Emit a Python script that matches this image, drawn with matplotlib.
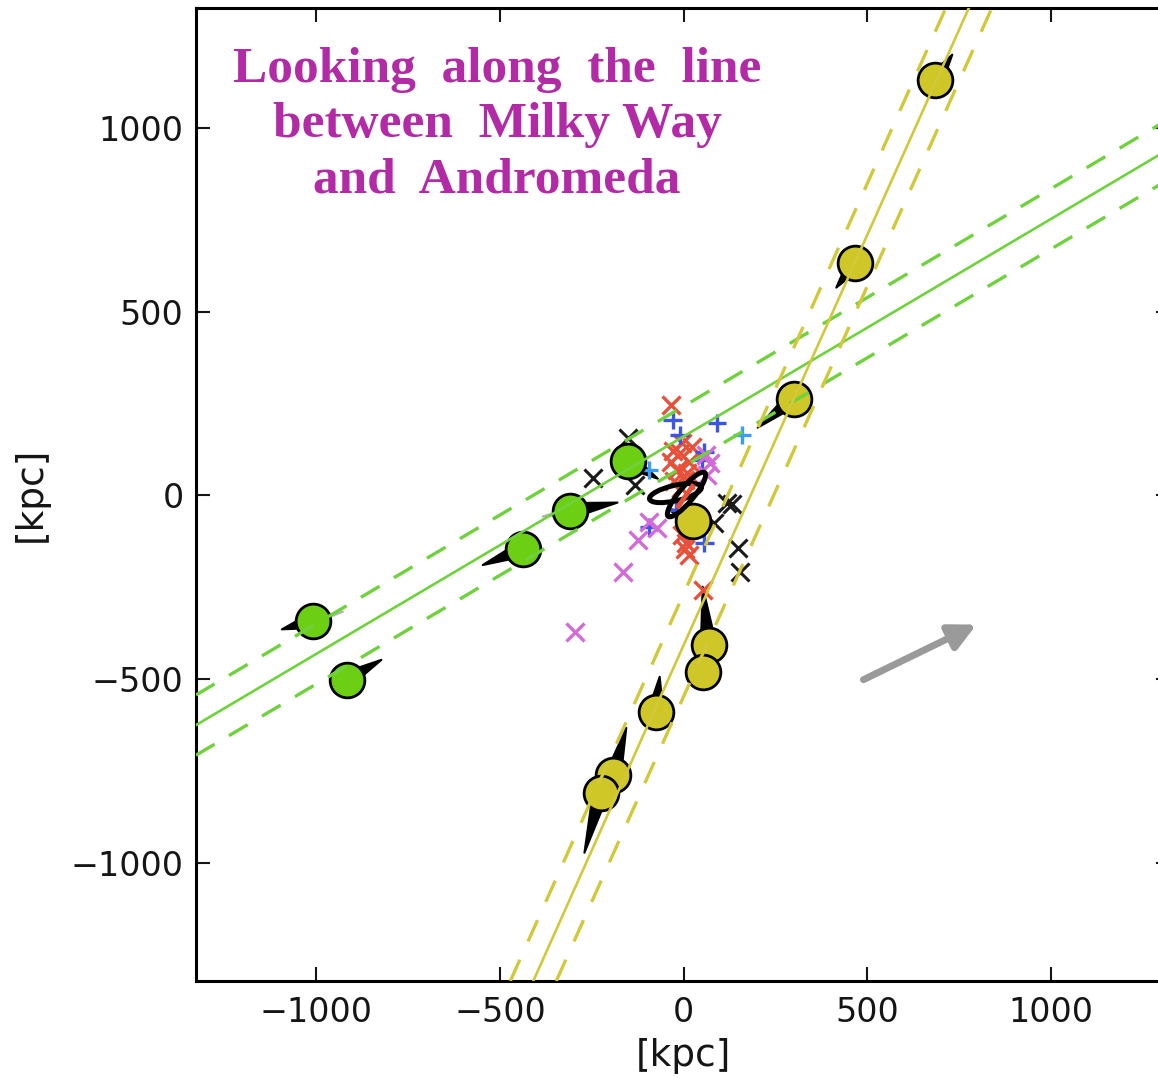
import numpy as np
import matplotlib
matplotlib.use("Agg")
import matplotlib.pyplot as plt
from matplotlib.patches import Polygon, Ellipse

# ---- satellite galaxies belonging to the two planes (kpc) ----
green_x = [-152, -308, -438, -1010, -918]
green_y = [94, -42, -146, -341, -502]
green_vx = [82, 128, -109, -84, 95]
green_vy = [-49, 22, -44, -24, 54]

yellow_x = [686, 468, 300, 27, 68, 54, -76, -191, -226]
yellow_y = [1131, 633, 263, -70, -407, -480, -589, -761, -810]
yellow_vx = [46, -52, -98, -68, -16, -5, 11, 35, -44]
yellow_vy = [68, -68, -79, 33, 158, 60, 95, 128, -163]

# faint counter-directed velocity stubs
stub_x = [-308, -1010]
stub_y = [-42, -341]
stub_vx = [-76, 82]
stub_vy = [-16, 24]

# ---- other dwarfs ----
red_x = [-33, -3, -11, -33, -19, 16, 3, 8, 16, -3, 52, -25, 10, -8, 22, -28, 5]
red_y = [246, 143, 116, 91, 69, 91, 42, -130, -162, -107, -257, 40, 60, 20, 130, 120, -145]
blue_x = [-30, 90, 158, -11, 57, -93, -93, 57, 50, -20]
blue_y = [205, 197, 165, 165, 118, 69, -86, -129, 95, -40]
blue_c = ["#3b55e6", "#3b55e6", "#3a9cf5", "#3b55e6", "#3b55e6", "#3a9cf5",
          "#3b55e6", "#3b55e6", "#3b55e6", "#3b55e6"]
mag_x = [71, 63, -93, -71, -125, -166, -297, 60]
mag_y = [88, 56, -72, -88, -121, -208, -371, 110]
blk_x = [-152, -248, -133, 117, 84, 147, 153, 132]
blk_y = [156, 48, 29, -20, -75, -143, -208, -25]

# ---- best-fit plane lines ----
green_slope, green_icpt, green_off = 0.5915, 160, 82      # y = m x + b, vertical offset
yellow_slope, yellow_x0, yellow_off = 2.232, 183, 62.6    # through (x0, 0), horizontal offset

# ---- host galaxy discs ----
disc_cx = [-22, 8]
disc_cy = [6, 2]
disc_w = [145, 155]
disc_h = [42, 40]
disc_ang = [13, 50]

# direction-of-view arrow
view_start = (490, -502)
view_end = (798, -352)

GREEN = "#6ccf14"
GREEN_LINE = "#6fd23c"
YELLOW = "#cfc728"
YELLOW_LINE = "#d2c83a"
PURPLE = "#b22aa6"
TXT = "#151515"

fig = plt.figure(figsize=(11.58, 10.78), dpi=100)
ax = fig.add_axes([0.16926, 0.08998, 0.8411, 0.9026])
ax.set_xlim(-1328, 1325)
ax.set_ylim(-1322, 1326)


def wedge(x, y, vx, vy, color, half=21, z=2):
    L = np.hypot(vx, vy)
    if L == 0:
        return
    px, py = -vy / L * half, vx / L * half
    tri = [(x + px, y + py), (x - px, y - py), (x + vx, y + vy)]
    ax.add_patch(Polygon(tri, closed=True, facecolor=color, edgecolor=color,
                         lw=1.5, joinstyle="round", zorder=z))


for x, y, vx, vy in zip(stub_x, stub_y, stub_vx, stub_vy):
    wedge(x, y, vx, vy, "#b4b4b4", half=8, z=1.8)
for x, y, vx, vy in zip(green_x, green_y, green_vx, green_vy):
    wedge(x, y, vx, vy, "black")
for x, y, vx, vy in zip(yellow_x, yellow_y, yellow_vx, yellow_vy):
    wedge(x, y, vx, vy, "black")

ax.plot(green_x, green_y, "o", ms=25, mfc=GREEN, mec="black", mew=2,
        ls="none", zorder=3)
ax.plot(yellow_x, yellow_y, "o", ms=25, mfc=YELLOW, mec="black", mew=2,
        ls="none", zorder=3)

ax.plot(red_x, red_y, "x", ms=13, mew=2.4, color="#e8503a", ls="none", zorder=2.5)
ax.scatter(blue_x, blue_y, marker="+", s=170, linewidths=2.4, c=blue_c, zorder=2.6)
ax.plot(mag_x, mag_y, "x", ms=13, mew=2.4, color="#d36ad8", ls="none", zorder=2.6)
ax.plot(blk_x, blk_y, "x", ms=13, mew=2.2, color="#1a1a1a", ls="none", zorder=2.6)

for cx, cy, w, h, a in zip(disc_cx, disc_cy, disc_w, disc_h, disc_ang):
    ax.add_patch(Ellipse((cx, cy), w, h, angle=a, fill=False, ec="black",
                         lw=3.6, zorder=3.5))
ax.plot([-14, 24], [-30, 24], color="#e8503a", lw=3.5, zorder=3.6)

# plane fits
ax.axline((0, green_icpt), slope=green_slope, color=GREEN_LINE, lw=1.9, zorder=4.5)
for s in (-1, 1):
    ax.axline((0, green_icpt + s * green_off), slope=green_slope, color=GREEN_LINE,
              lw=2.4, dashes=(6.5, 5), zorder=4.5)
ax.axline((yellow_x0, 0), slope=yellow_slope, color=YELLOW_LINE, lw=1.9, zorder=4.5)
for s in (-1, 1):
    ax.axline((yellow_x0 + s * yellow_off, 0), slope=yellow_slope, color=YELLOW_LINE,
              lw=2.4, dashes=(7, 6), zorder=4.5)

ax.annotate("", xy=view_end, xytext=view_start,
            arrowprops=dict(arrowstyle="-|>", color="#9a9a9a", lw=5,
                            mutation_scale=40, shrinkA=0, shrinkB=0), zorder=4)

ticks = [-1000, -500, 0, 500, 1000]
ax.set_xticks(ticks)
ax.set_yticks(ticks)
ax.tick_params(direction="in", length=10, width=1.5, top=True, right=True,
               labelsize=24, colors=TXT, pad=9)
ax.tick_params(axis="x", pad=11)
for sp in ax.spines.values():
    sp.set_linewidth(2.2)
ax.set_xlabel("[kpc]", fontsize=27, color=TXT, labelpad=6)
ax.set_ylabel("[kpc]", fontsize=27, color=TXT, labelpad=16)

fig.text(0.4292, 1 - 47 / 1078,
         "Looking  along  the  line\nbetween  Milky Way\nand  Andromeda",
         ha="center", va="top", fontsize=37, fontweight="bold",
         family="Liberation Serif", color=PURPLE, linespacing=1.27)

fig.savefig("out.png", dpi=100)
